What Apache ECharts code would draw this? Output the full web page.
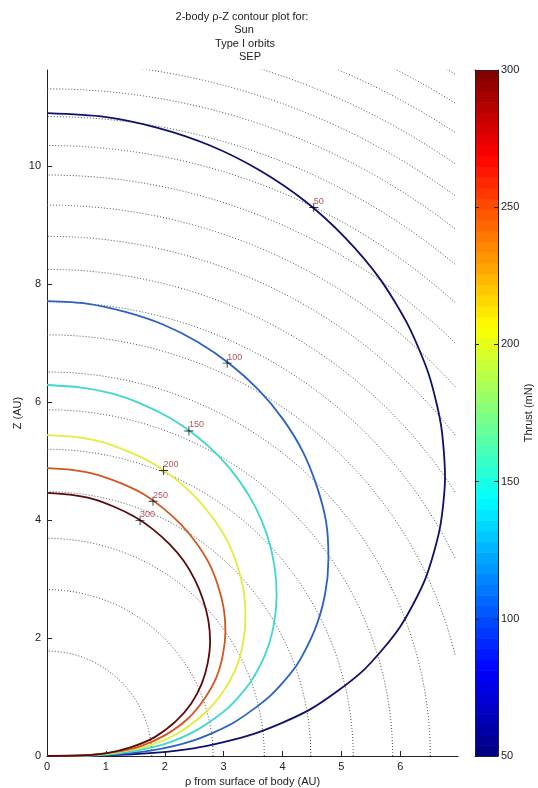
<!DOCTYPE html>
<html>
<head>
<meta charset="utf-8">
<script src="https://cdn.jsdelivr.net/npm/echarts@6/dist/echarts.min.js"></script>
<style>
  html, body { margin: 0; padding: 0; background: #fff; }
  #main { width: 538px; height: 788px; }
</style>
</head>
<body>
<div id="main"></div>
<script>
// text
const titleLines = ["2-body \u03c1-Z contour plot for:", "Sun", "Type I orbits", "SEP"];
const xName = "\u03c1 from surface of body (AU)";
const yName = "Z (AU)";
const barName = "Thrust (mN)";

// axis ticks
const xTicks = [0, 1, 2, 3, 4, 5, 6];
const yTicks = [0, 2, 4, 6, 8, 10];
const barTicks = [50, 100, 150, 200, 250, 300];

// thrust levels and their contours [rho, Z]
const levels = [50, 100, 150, 200, 250, 300];
const contour50 = [[0,0],[1.44,0.03],[2.49,0.13],[3.50,0.37],[4.47,0.79],[5.36,1.44],[5.99,2.18],[6.42,2.99],[6.67,3.85],[6.76,4.73],[6.69,5.62],[6.48,6.48],[6.13,7.31],[5.66,8.08],[5.07,8.78],[4.39,9.40],[3.61,9.93],[2.77,10.35],[1.88,10.65],[0.95,10.84],[0,10.90]];
const contour100 = [[0,0],[1.02,0.02],[1.76,0.09],[2.48,0.26],[3.16,0.56],[3.79,1.02],[4.24,1.54],[4.54,2.12],[4.72,2.73],[4.78,3.35],[4.74,3.97],[4.58,4.58],[4.34,5.17],[4.00,5.72],[3.59,6.21],[3.10,6.65],[2.56,7.02],[1.96,7.32],[1.33,7.53],[0.67,7.67],[0,7.71]];
const contour150 = [[0,0],[0.83,0.01],[1.44,0.08],[2.02,0.21],[2.58,0.46],[3.09,0.83],[3.46,1.26],[3.71,1.73],[3.85,2.22],[3.90,2.73],[3.86,3.24],[3.74,3.74],[3.54,4.22],[3.27,4.66],[2.93,5.07],[2.53,5.43],[2.09,5.73],[1.60,5.97],[1.08,6.15],[0.55,6.25],[0,6.29]];
const contour200 = [[0,0],[0.72,0.01],[1.24,0.07],[1.75,0.18],[2.23,0.39],[2.67,0.72],[2.99,1.09],[3.21,1.49],[3.33,1.92],[3.37,2.36],[3.34,2.80],[3.23,3.23],[3.06,3.65],[2.82,4.03],[2.53,4.38],[2.19,4.69],[1.80,4.96],[1.38,5.16],[0.94,5.32],[0.47,5.41],[0,5.44]];
const contour250 = [[0,0],[0.64,0.01],[1.11,0.06],[1.57,0.16],[2.00,0.35],[2.40,0.64],[2.68,0.98],[2.88,1.34],[2.99,1.73],[3.03,2.12],[3.00,2.51],[2.90,2.90],[2.75,3.27],[2.53,3.62],[2.27,3.93],[1.96,4.21],[1.62,4.45],[1.24,4.63],[0.84,4.77],[0.42,4.85],[0,4.88]];
const contour300 = [[0,0],[0.59,0.01],[1.02,0.05],[1.43,0.15],[1.83,0.32],[2.19,0.59],[2.45,0.89],[2.63,1.23],[2.73,1.58],[2.77,1.94],[2.74,2.30],[2.65,2.65],[2.51,2.99],[2.32,3.31],[2.08,3.59],[1.79,3.85],[1.48,4.06],[1.13,4.23],[0.77,4.36],[0.39,4.43],[0,4.46]];
const contours = [contour50, contour100, contour150, contour200, contour250, contour300];

// where the level labels sit on each contour
const labelPoints = [[4.53,9.30],[3.06,6.66],[2.41,5.51],[1.98,4.84],[1.80,4.32],[1.58,3.99]];

// radii of the dotted background circles
const guideRadii = [1.78, 2.82, 3.69, 4.48, 5.20, 5.87, 6.51, 7.14, 7.70, 8.25, 8.81, 9.34, 9.85, 10.35, 10.84, 11.31, 11.76, 12.20, 12.64, 13.06, 13.48];

const lineColors = ["#10106c", "#2a62c6", "#3ed8cc", "#e4ec3c", "#d2561e", "#5c0a0a"];
const FONT = "Liberation Sans, Arial, Helvetica, sans-serif";
const X_END = 6.93; // dotted circles stop here

function jet(t) {
  const c = v => Math.round(255 * Math.max(0, Math.min(1, v)));
  return "rgb(" + c(1.5 - Math.abs(4 * t - 3)) + "," + c(1.5 - Math.abs(4 * t - 2)) + "," + c(1.5 - Math.abs(4 * t - 1)) + ")";
}

function arc(r) {
  const a0 = r > X_END ? Math.acos(X_END / r) : 0;
  const pts = [];
  for (let i = 0; i <= 150; i++) {
    const a = a0 + (Math.PI / 2 - a0) * i / 150;
    pts.push([r * Math.cos(a), r * Math.sin(a)]);
  }
  return pts;
}

const chart = echarts.init(document.getElementById("main"));

const series = [];
guideRadii.forEach(r => {
  series.push({
    type: "line", xAxisIndex: 0, yAxisIndex: 0,
    data: arc(r), showSymbol: false, silent: true, z: 1,
    lineStyle: { color: "#505050", width: 1, type: [1, 2] }
  });
});
contours.forEach((pts, i) => {
  series.push({
    name: String(levels[i]),
    type: "line", xAxisIndex: 0, yAxisIndex: 0,
    data: pts, showSymbol: false, smooth: 0.25, z: 3,
    lineStyle: { color: lineColors[i], width: 1.8 }
  });
});
series.push({
  type: "scatter", xAxisIndex: 0, yAxisIndex: 0, z: 5,
  data: labelPoints.map((p, i) => ({ value: p, name: String(levels[i]) })),
  symbol: "path://M0,4.5h10v1h-10z M4.5,0h1v10h-1z",
  symbolSize: 9,
  itemStyle: { color: "#000" },
  label: {
    show: true, position: "right", distance: 0, offset: [-4.5, -6],
    formatter: "{b}", color: "#a02a32", fontSize: 9, fontFamily: FONT
  }
});
// colorbar bands
series.push({
  type: "custom", xAxisIndex: 1, yAxisIndex: 1, z: 2,
  data: [[0, barTicks[0]]],
  renderItem(params, api) {
    const lo = barTicks[0], hi = barTicks[barTicks.length - 1], n = 64;
    const children = [];
    for (let i = 0; i < n; i++) {
      const a = lo + (hi - lo) * i / n, b = lo + (hi - lo) * (i + 1) / n;
      const p0 = api.coord([0, b]), p1 = api.coord([1, a]);
      children.push({
        type: "rect",
        shape: { x: p0[0], y: p0[1], width: p1[0] - p0[0], height: p1[1] - p0[1] + 0.6 },
        style: { fill: jet((i + 0.5) / n) }
      });
    }
    return { type: "group", children };
  }
});

const axisText = { fontSize: 11, color: "#222", fontFamily: FONT };

chart.setOption({
  backgroundColor: "#fff",
  animation: false,
  textStyle: { fontFamily: FONT },
  graphic: [
    { x: 242, y: 16.5, text: titleLines[0] },
    { x: 244, y: 29.5, text: titleLines[1] },
    { x: 245, y: 43.5, text: titleLines[2] },
    { x: 250, y: 57, text: titleLines[3] }
  ].map(t => ({
    type: "text", x: t.x, y: t.y,
    style: { text: t.text, fontSize: 11, fontFamily: FONT, fill: "#222",
             align: "center", verticalAlign: "middle", textAlign: "center", textVerticalAlign: "middle" }
  })),
  grid: [
    { left: 47, top: 70, width: 411, height: 686, outerBoundsMode: "none" },
    { left: 475, top: 70, width: 23, height: 686, outerBoundsMode: "none" }
  ],
  xAxis: [
    {
      gridIndex: 0, type: "value", min: 0, max: 6.98,
      name: xName, nameLocation: "middle", nameGap: 20, nameMoveOverlap: false,
      nameTextStyle: axisText,
      axisLine: { lineStyle: { color: "#222", width: 1 } },
      axisTick: { inside: true, length: 5, customValues: xTicks, lineStyle: { color: "#222" } },
      axisLabel: Object.assign({ margin: 5, customValues: xTicks }, axisText),
      splitLine: { show: false }
    },
    {
      gridIndex: 1, type: "value", min: 0, max: 1, z: 10,
      axisLine: { onZero: false, lineStyle: { color: "#222" } },
      axisTick: { show: false }, axisLabel: { show: false }, splitLine: { show: false }
    },
    {
      gridIndex: 1, type: "value", min: 0, max: 1, position: "top", z: 10,
      axisLine: { onZero: false, lineStyle: { color: "#222" } },
      axisTick: { show: false }, axisLabel: { show: false }, splitLine: { show: false }
    }
  ],
  yAxis: [
    {
      gridIndex: 0, type: "value", min: 0, max: 11.63,
      name: yName, nameLocation: "middle", nameGap: 23.5, nameMoveOverlap: false,
      nameTextStyle: axisText,
      axisLine: { show: true, lineStyle: { color: "#222", width: 1 } },
      axisTick: { show: true, inside: true, length: 5, customValues: yTicks, lineStyle: { color: "#222" } },
      axisLabel: Object.assign({ margin: 6, customValues: yTicks }, axisText),
      splitLine: { show: false }
    },
    {
      gridIndex: 1, type: "value", min: 50, max: 300, position: "right", z: 10,
      name: barName, nameLocation: "middle", nameGap: 25, nameMoveOverlap: false,
      nameTextStyle: axisText,
      axisLine: { show: true, onZero: false, lineStyle: { color: "#222" } },
      axisTick: { show: true, inside: true, length: 4, customValues: barTicks, lineStyle: { color: "#222" } },
      axisLabel: Object.assign({ margin: 3, customValues: barTicks }, axisText),
      splitLine: { show: false }
    },
    {
      gridIndex: 1, type: "value", min: 50, max: 300, position: "left", z: 10,
      axisLine: { show: true, onZero: false, lineStyle: { color: "#222" } },
      axisTick: { show: true, inside: true, length: 4, customValues: barTicks, lineStyle: { color: "#222" } },
      axisLabel: { show: false },
      splitLine: { show: false }
    }
  ],
  series
});
</script>
</body>
</html>
